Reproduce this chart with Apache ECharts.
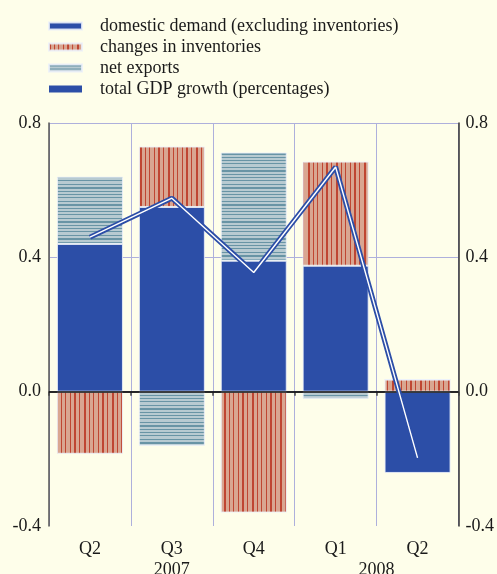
<!DOCTYPE html>
<html><head><meta charset="utf-8">
<script src="https://cdn.jsdelivr.net/npm/echarts@6/dist/echarts.min.js"></script>
<style>html,body{margin:0;padding:0;background:#fefeea}#c{width:497px;height:574px}</style>
</head><body><div id="c"></div>
<script>
const categories = ['Q2', 'Q3', 'Q4', 'Q1', 'Q2'];
const yearLabels = ['2007', '2008'];
const yearPositions = [1, 3.5];
const domestic = [0.44, 0.55, 0.39, 0.375, -0.242];
const inventories = [-0.185, 0.18, -0.36, 0.31, 0.036];
const netExports = [0.20, -0.161, 0.322, -0.021, 0];
const gdp = [0.46, 0.576, 0.355, 0.669, -0.197];
const seriesNames = ['domestic demand (excluding inventories)', 'changes in inventories', 'net exports', 'total GDP growth (percentages)'];

function makePattern(type) {
  const c = document.createElement('canvas');
  const ctx = c.getContext('2d');
  if (type === 'inv') {
    c.width = 28; c.height = 4;
    ctx.fillStyle = '#d9a691'; ctx.fillRect(0, 0, 28, 4);
    ctx.fillStyle = '#bf4632';
    [[0, 2], [5, 1], [9, 1], [14, 1], [18, 2], [23, 1]].forEach(([x, w]) => ctx.fillRect(x, 0, w, 4));
  } else {
    c.width = 4; c.height = 17;
    ctx.fillStyle = '#b7cad1'; ctx.fillRect(0, 0, 4, 17);
    ctx.fillStyle = '#6894a5';
    [[0, 2], [4, 1], [7, 1], [10, 1], [14, 1]].forEach(([y, h]) => ctx.fillRect(0, y, 4, h));
  }
  return { image: c, repeat: 'repeat' };
}

const font = 'Liberation Serif';
const fs = 18;
const chart = echarts.init(document.getElementById('c'), null, { renderer: 'canvas' });
const barBorder = { borderColor: 'rgba(235,240,250,0.85)', borderWidth: 1 };
const option = {
  backgroundColor: '#fefeea',
  animation: false,
  textStyle: { fontFamily: font },
  legend: {
    orient: 'vertical', left: 48, top: 17, padding: 0,
    itemWidth: 33, itemHeight: 7, itemGap: 3,
    icon: 'rect',
    textStyle: { fontFamily: font, fontSize: fs, color: '#1a1a1a', lineHeight: 18, padding: [0, 0, 0, 13] },
    data: seriesNames
  },
  grid: { left: 49, right: 36, top: 123, bottom: 48 },
  xAxis: {
    type: 'category', data: categories, offset: 3,
    axisLine: { lineStyle: { color: '#444', width: 1.5 } },
    axisTick: { show: true, length: 4, lineStyle: { color: '#444', width: 1.5 } },
    axisLabel: { fontFamily: font, fontSize: fs, color: '#1a1a1a', margin: 11 },
    splitLine: { show: true, lineStyle: { color: '#aeb0dc', width: 1 } }
  },
  yAxis: [{
    type: 'value', min: -0.4, max: 0.8, interval: 0.4,
    axisLine: { show: true, lineStyle: { color: '#555', width: 1.5 } },
    axisTick: { show: false },
    axisLabel: { fontFamily: font, fontSize: fs, color: '#1a1a1a', margin: 8, formatter: v => v.toFixed(1) },
    splitLine: { show: true, showMinLine: false, lineStyle: { color: '#aeb0dc', width: 1 } }
  }, {
    type: 'value', min: -0.4, max: 0.8, interval: 0.4, position: 'right',
    axisLine: { show: true, lineStyle: { color: '#333', width: 1.5 } },
    axisTick: { show: false },
    axisLabel: { fontFamily: font, fontSize: fs, color: '#1a1a1a', margin: 7, formatter: v => v.toFixed(1) },
    splitLine: { show: false }
  }],
  series: [
    { name: seriesNames[0], type: 'bar', stack: 'g', data: domestic, barWidth: 66,
      itemStyle: Object.assign({ color: '#2c4ea7' }, barBorder),
      markLine: { silent: true, symbol: 'none', label: { show: false },
        lineStyle: { color: '#111', width: 1.5, type: 'solid' }, data: [{ yAxis: 0 }] } },
    { name: seriesNames[1], type: 'bar', stack: 'g', data: inventories, barWidth: 66,
      itemStyle: Object.assign({ color: makePattern('inv') }, barBorder) },
    { name: seriesNames[2], type: 'bar', stack: 'g', data: netExports, barWidth: 66,
      itemStyle: Object.assign({ color: makePattern('ne') }, barBorder) },
    { name: seriesNames[3], type: 'line', data: gdp, symbol: 'none', z: 5,
      itemStyle: { color: '#2c4ea7' }, lineStyle: { color: '#2c4ea7', width: 5 } },
    { name: 'gdp-inner', type: 'line', data: gdp, symbol: 'none', z: 6,
      itemStyle: { color: '#ffffff' }, lineStyle: { color: '#ffffff', width: 1.4 } }
  ]
};
chart.setOption(option);
const yearGraphics = yearLabels.map((t, i) => {
  const p = yearPositions[i];
  const a = chart.convertToPixel({ xAxisIndex: 0 }, Math.floor(p));
  const b = chart.convertToPixel({ xAxisIndex: 0 }, Math.ceil(p));
  const x = a + (b - a) * (p - Math.floor(p));
  return { type: 'text', x: x, y: 561, style: { text: t, font: fs + 'px "' + font + '"', fill: '#1a1a1a', textAlign: 'center', textVerticalAlign: 'top' } };
});
chart.setOption({ graphic: yearGraphics });
</script></body></html>
